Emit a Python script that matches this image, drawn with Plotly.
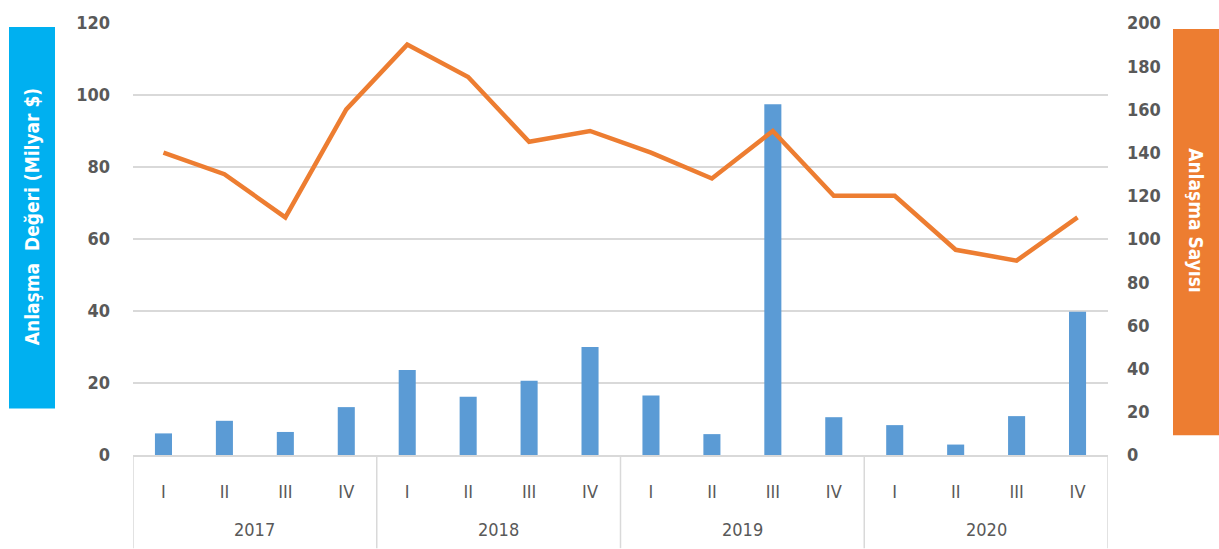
import plotly.graph_objects as go

years = ["2017", "2018", "2019", "2020"]
quarters = ["I", "II", "III", "IV"] * 4
deal_value = [6.0, 9.5, 6.4, 13.3, 23.6, 16.2, 20.6, 30.0,
              16.5, 5.8, 97.4, 10.5, 8.3, 2.9, 10.8, 39.8]
deal_count = [140, 130, 110, 160, 190, 175, 145, 150,
              140, 128, 150, 120, 120, 95, 90, 110]
left_ticks = [0, 20, 40, 60, 80, 100, 120]
right_ticks = [0, 20, 40, 60, 80, 100, 120, 140, 160, 180, 200]

FONT = "DejaVu Sans Condensed, DejaVu Sans, sans-serif"
GRAY = "#595959"
LINE = "#D9D9D9"

xpos = list(range(len(quarters)))
n_per_year = len(quarters) // len(years)

fig = go.Figure()
fig.add_trace(go.Bar(x=xpos, y=deal_value, marker_color="#5B9BD5",
                     marker_line_width=0, width=0.28, yaxis="y", name="Anlaşma Değeri"))
fig.add_trace(go.Scatter(x=xpos, y=deal_count, mode="lines",
                         line=dict(color="#ED7D31", width=4.5), yaxis="y2", name="Anlaşma Sayısı"))

B = -(549 - 455) / 436  # bottom of page in paper coords
shapes = [
    dict(type="rect", xref="paper", yref="paper", x0=(9 - 133) / 975, x1=(55 - 133) / 975,
         y0=(455 - 408) / 436, y1=(455 - 23) / 436, fillcolor="#00B0F0", line_width=0, layer="below"),
    dict(type="rect", xref="paper", yref="paper", x0=(1173 - 133) / 975, x1=(1219 - 133) / 975,
         y0=(455 - 435) / 436, y1=(455 - 25) / 436, fillcolor="#ED7D31", line_width=0, layer="below"),
]
for g in range(len(years) + 1):
    xv = g * n_per_year - 0.5
    shapes.append(dict(type="line", xref="x", yref="paper", x0=xv, x1=xv, y0=0, y1=B,
                       line=dict(color=LINE, width=1.5)))

annotations = [
    dict(text="Anlaşma\u00a0\u00a0Değeri (Milyar $)", xref="paper", yref="paper",
         x=(32 - 133) / 975, y=(455 - 215) / 436, showarrow=False, textangle=-90,
         font=dict(family=FONT, size=19, color="white", weight="bold"),
         xanchor="center", yanchor="middle"),
    dict(text="Anlaşma Sayısı", xref="paper", yref="paper",
         x=(1196 - 133) / 975, y=(455 - 218) / 436, showarrow=False, textangle=90,
         font=dict(family=FONT, size=19, color="white", weight="bold"),
         xanchor="center", yanchor="middle"),
]
for i, yr in enumerate(years):
    annotations.append(dict(text=yr, xref="x", yref="paper",
                            x=i * n_per_year + (n_per_year - 1) / 2, y=-(530 - 455) / 436,
                            showarrow=False, xanchor="center", yanchor="middle",
                            font=dict(family=FONT, size=18, color=GRAY)))

fig.update_layout(
    width=1219, height=549,
    margin=dict(l=133, r=111, t=19, b=94),
    paper_bgcolor="white", plot_bgcolor="white",
    showlegend=False,
    xaxis=dict(range=[-0.5, len(quarters) - 0.5], tickvals=xpos, ticktext=quarters,
               showline=True, linecolor=LINE, linewidth=1.5, ticks="", showgrid=False,
               zeroline=False, ticklabelstandoff=20,
               tickfont=dict(family=FONT, size=18, color=GRAY)),
    yaxis=dict(range=[0, 120], tickvals=left_ticks, showgrid=True, gridcolor=LINE,
               gridwidth=1.5, zeroline=False, ticks="", ticklabelstandoff=22,
               tickfont=dict(family=FONT, size=18, color=GRAY, weight="bold")),
    yaxis2=dict(range=[0, 200], tickvals=right_ticks, overlaying="y", side="right",
                showgrid=False, zeroline=False, ticks="", ticklabelstandoff=18,
                tickfont=dict(family=FONT, size=18, color=GRAY, weight="bold")),
    shapes=shapes,
    annotations=annotations,
)

fig.write_html("out.html", config={"displayModeBar": False},
               post_script="document.body.style.margin='0';")
